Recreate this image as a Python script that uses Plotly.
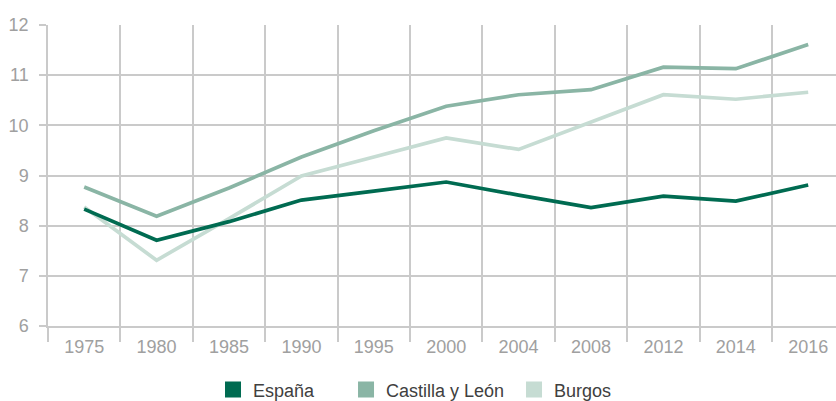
import plotly.graph_objects as go

years = ["1975", "1980", "1985", "1990", "1995", "2000", "2004", "2008", "2012", "2014", "2016"]
espana = [8.33, 7.71, 8.08, 8.51, 8.69, 8.87, 8.61, 8.36, 8.59, 8.49, 8.81]
castilla = [8.77, 8.19, 8.75, 9.37, 9.89, 10.38, 10.61, 10.71, 11.16, 11.13, 11.61]
burgos = [8.37, 7.31, 8.14, 8.99, 9.37, 9.75, 9.52, 10.07, 10.61, 10.52, 10.66]

names = ["España", "Castilla y León", "Burgos"]
colors = ["#006b51", "#8ab5a5", "#c6dcd3"]
series = [espana, castilla, burgos]

fig = go.Figure()
# draw lighter lines first so the dark line is on top
for vals, name, col in reversed(list(zip(series, names, colors))):
    fig.add_trace(go.Scatter(x=years, y=vals, mode="lines", name=name,
                             line=dict(color=col, width=3.7), showlegend=False,
                             hoverinfo="skip"))

legend_ids = ["legend", "legend2", "legend3"]
legend_x = [0.2094, 0.3782, 0.5914]
for name, col, lid in zip(names, colors, legend_ids):
    fig.add_trace(go.Scatter(x=[None], y=[None], mode="markers", name=name,
                             marker=dict(symbol="square", size=16, color=col),
                             showlegend=True, legend=lid))

font_family = "Liberation Sans, Arial, sans-serif"
legend_common = dict(orientation="h", yanchor="middle", y=-0.2123, xanchor="left",
                     font=dict(family=font_family, size=18, color="#404040"),
                     bgcolor="rgba(0,0,0,0)", borderwidth=0)

grid_col = "#cacaca"
fig.update_layout(
    width=836, height=401,
    margin=dict(l=48, r=0, t=24.5, b=75, autoexpand=False),
    paper_bgcolor="white", plot_bgcolor="white",
    font=dict(family=font_family),
    legend=dict(x=legend_x[0], **legend_common),
    legend2=dict(x=legend_x[1], **legend_common),
    legend3=dict(x=legend_x[2], **legend_common),
    xaxis=dict(type="category", range=[-0.5, 10.384], tickson="boundaries",
               automargin=False,
               showgrid=True, gridcolor=grid_col, gridwidth=1.5,
               ticks="outside", ticklen=14, tickcolor=grid_col, tickwidth=1.5,
               showline=True, linecolor=grid_col, linewidth=1.5,
               tickfont=dict(size=18, color="#a0a0a0"),
               ticklabelstandoff=4, zeroline=False),
    yaxis=dict(range=[6, 12], dtick=1, automargin=False,
               showgrid=True, gridcolor=grid_col, gridwidth=1.5,
               ticks="outside", ticklen=7, tickcolor=grid_col, tickwidth=1.5,
               showline=True, linecolor=grid_col, linewidth=1.5,
               tickfont=dict(size=18, color="#a0a0a0"),
               ticklabelstandoff=7, zeroline=False),
)

fig.write_html("out.html", config={"displayModeBar": False},
               post_script="document.body.style.margin='0';document.body.style.overflow='hidden';")
